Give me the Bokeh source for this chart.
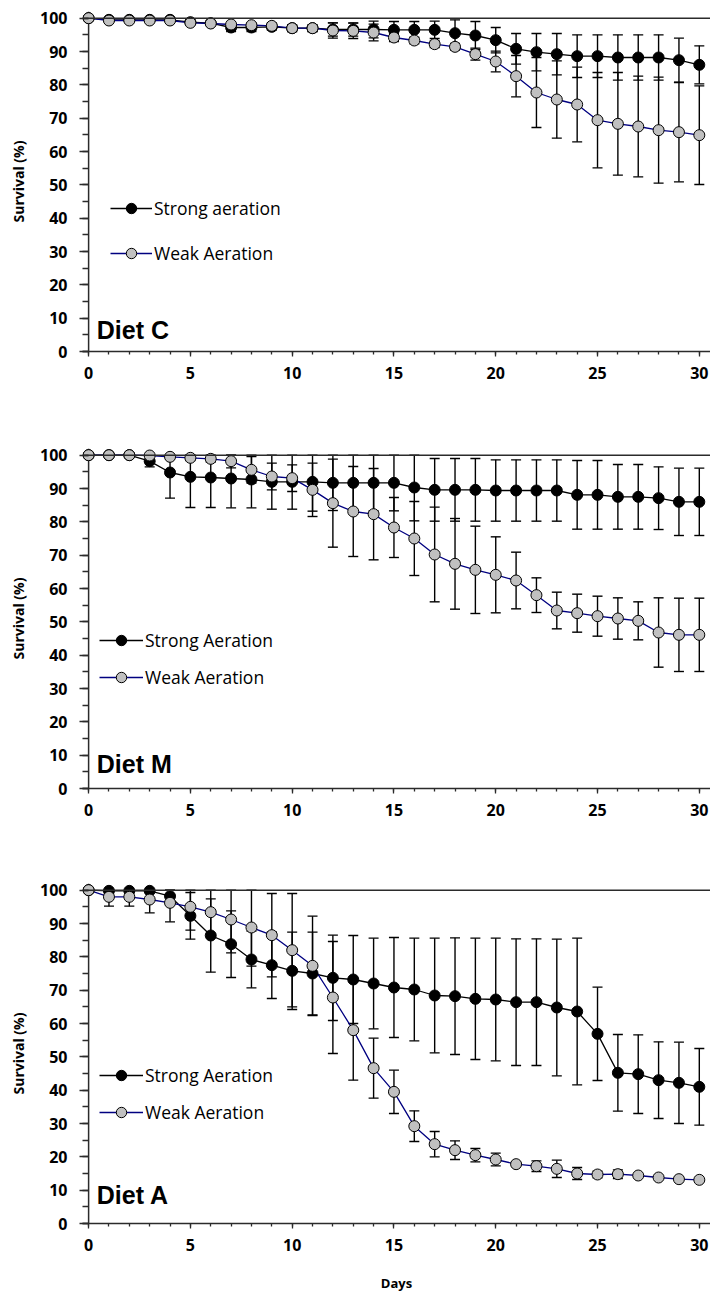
import numpy as np
from bokeh.plotting import figure
from bokeh.models import (ColumnDataSource, Whisker, TeeHead, Legend, LegendItem,
                          SingleIntervalTicker, Span, Label, Range1d)
from bokeh.layouts import column
from bokeh.embed import file_html
from bokeh.resources import INLINE

days = list(range(31))

# Diet C
c_strong = [100, 99.5, 99.5, 99.5, 99.5, 98.8, 98.5, 97.2, 97.2, 97.4, 97.0, 97.0, 96.6, 96.6, 96.6,
            96.5, 96.5, 96.5, 95.5, 94.8, 93.4, 90.8, 89.8, 89.2, 88.6, 88.6, 88.2, 88.2, 88.2, 87.4, 86.0]
c_strong_err = [0, 0, 0, 0, 0, 0.5, 0.5, 1.2, 1.2, 1, 1, 1, 2, 2, 2.5, 2.5, 2.5, 2.6, 4, 4.2, 3.8,
                4.6, 5.6, 6.2, 6.4, 6.4, 6.8, 6.8, 6.8, 6.6, 5.7]
c_weak = [100, 99.3, 99.3, 99.3, 99.3, 98.6, 98.4, 98.1, 97.9, 97.7, 97.0, 97.0, 96.3, 96.2, 95.7,
          94.2, 93.3, 92.2, 91.4, 89.2, 87.0, 82.6, 77.7, 75.6, 74.1, 69.4, 68.3, 67.5, 66.4, 65.8, 64.9]
c_weak_err = [0, 0, 0, 0, 0, 0.4, 0.5, 0.5, 0.6, 0.8, 1, 1, 2.3, 2.3, 2.5, 1.2, 1, 1, 1, 1.8, 3.1,
              6.2, 10.5, 11.6, 11.2, 14.3, 15.4, 15.1, 15.9, 14.9, 14.8]

# Diet M
m_strong = [100, 100, 100, 98.2, 94.8, 93.5, 93.3, 93.0, 92.7, 92.0, 92.0, 92.0, 91.7, 91.7, 91.7,
            91.7, 90.3, 89.6, 89.6, 89.6, 89.4, 89.4, 89.4, 89.4, 88.1, 88.1, 87.5, 87.5, 87.1, 86.0, 86.0]
m_strong_err = [0, 0, 0, 1.7, 7.7, 9.2, 9, 8.8, 8.5, 8.2, 8.2, 8.8, 8.3, 8.3, 8.4, 8.4, 10, 9.4, 9.4,
                9.4, 9.2, 9.2, 9.2, 9.2, 10.3, 10.3, 9.7, 9.7, 9.4, 10.1, 10.1]
m_weak = [100, 100, 100, 99.9, 99.5, 99.2, 98.9, 98.2, 95.6, 93.6, 93.1, 89.6, 85.6, 83.1, 82.3,
          78.3, 75.0, 70.2, 67.4, 65.6, 64.1, 62.4, 58.0, 53.4, 52.6, 51.7, 51.0, 50.3, 46.8, 46.1, 46.1]
m_weak_err = [0, 0, 0, 0, 0.5, 0.8, 1, 2, 4, 4, 4, 8, 13.2, 13.5, 13.7, 9, 11.1, 14.2, 13.6, 13.1,
              11.4, 8.5, 5.2, 5.5, 5.7, 6, 6.2, 5.7, 10.4, 11, 11]

# Diet A
a_strong = [100, 99.8, 99.8, 99.8, 98.2, 92.3, 86.4, 83.8, 79.2, 77.5, 75.8, 75.0, 73.7, 73.2, 72.0,
            70.8, 70.2, 68.4, 68.2, 67.4, 67.2, 66.4, 66.4, 64.8, 63.6, 56.9, 45.2, 44.8, 43.0, 42.2, 41.0]
a_strong_err = [0, 0, 0, 0, 2, 7, 11, 10, 8.5, 10, 11.6, 12.4, 12.8, 13.2, 13.6, 15, 15.4, 17.2, 17.5,
                18.2, 18.4, 19, 19, 20.5, 22, 14, 11.5, 11.8, 11.5, 12.2, 11.5]
a_weak = [100, 98, 98, 97.2, 96.2, 95, 93.4, 91.2, 88.8, 86.5, 82, 77.3, 67.8, 58, 46.6, 39.5, 29.2,
          23.8, 22, 20.5, 19.2, 17.8, 17.2, 16.4, 15, 14.7, 14.8, 14.4, 13.8, 13.3, 13.1]
a_weak_err = [0, 2.8, 2.8, 4, 5.7, 7, 6.6, 10, 11.6, 12.5, 17, 14.9, 16.8, 15, 9, 6.5, 4.6, 3.8, 2.8,
              2, 1.9, 0.5, 1.6, 2.6, 1.8, 1, 1.3, 0.5, 0.4, 0.3, 0.3]

diet_labels = ["Diet C", "Diet M", "Diet A"]
strong_labels = ["Strong aeration", "Strong Aeration", "Strong Aeration"]
weak_label = "Weak Aeration"
y_title = "Survival (%)"
x_title = "Days"

TICK_FONT = "Open Sans"
AX_COLOR = "#2b2b2b"


def make_panel(strong, strong_err, weak, weak_err, diet, diet_y, strong_label,
               leg_loc, glyph_w, spacing, top, bottom, height, xlabel):
    p = figure(width=710, height=height, output_backend="svg", toolbar_location=None,
               x_range=Range1d(-0.3, 30.55), y_range=Range1d(0, 102),
               min_border_left=82, min_border_right=0, min_border_top=top,
               min_border_bottom=bottom)
    p.outline_line_color = None
    p.grid.visible = False
    p.background_fill_color = "white"

    x = np.array(days, dtype=float)
    s = np.array(strong)
    se = np.array(strong_err)
    w = np.array(weak)
    we = np.array(weak_err)

    src_s = ColumnDataSource(dict(x=x, y=s, up=np.minimum(s + se, 100), lo=s - se))
    src_w = ColumnDataSource(dict(x=x, y=w, up=np.minimum(w + we, 100), lo=w - we))

    for src in (src_s, src_w):
        wh = Whisker(base="x", upper="up", lower="lo", source=src, level="underlay",
                     line_color="black", line_width=1.4,
                     upper_head=TeeHead(size=10, line_color="black", line_width=1.4),
                     lower_head=TeeHead(size=10, line_color="black", line_width=1.4))
        p.add_layout(wh)

    ls = p.line("x", "y", source=src_s, line_color="black", line_width=1.3)
    lw = p.line("x", "y", source=src_w, line_color="#000080", line_width=1.3)
    ms = p.scatter("x", "y", source=src_s, size=11, fill_color="black",
                   line_color="black", line_width=1)
    mw = p.scatter("x", "y", source=src_w, size=11, fill_color="#c0c0c0",
                   line_color="black", line_width=1)

    # plot-area top line and y-axis line at x = 0
    p.add_layout(Span(location=100, dimension="width", line_color=AX_COLOR, line_width=1.5))
    p.add_layout(Span(location=0, dimension="height", line_color=AX_COLOR, line_width=1.5,
                      level="underlay"))

    # x axis
    xa = p.xaxis[0]
    xa.ticker = SingleIntervalTicker(interval=5, num_minor_ticks=5)
    xa.bounds = (-0.3, 30.55)
    xa.axis_line_color = AX_COLOR
    xa.axis_line_width = 1.5
    xa.major_tick_line_color = AX_COLOR
    xa.minor_tick_line_color = AX_COLOR
    xa.major_tick_line_width = 1.3
    xa.minor_tick_line_width = 1.3
    xa.major_tick_out = 5
    xa.major_tick_in = 0
    xa.minor_tick_out = 3
    xa.minor_tick_in = 0
    xa.major_label_standoff = 10
    xa.major_label_text_font = TICK_FONT
    xa.major_label_text_font_style = "bold"
    xa.major_label_text_font_size = "16px"
    xa.major_label_text_color = "black"
    if xlabel:
        xa.axis_label = xlabel
        xa.axis_label_text_font = TICK_FONT
        xa.axis_label_text_font_style = "bold"
        xa.axis_label_text_font_size = "13px"
        xa.axis_label_text_color = "black"
        xa.axis_label_standoff = 20

    # y axis (sits at the frame's left edge; ticks reach the line at x = 0)
    ya = p.yaxis[0]
    ya.ticker = SingleIntervalTicker(interval=10, num_minor_ticks=2)
    ya.bounds = (0, 100)
    ya.axis_line_color = None
    ya.major_tick_line_color = AX_COLOR
    ya.minor_tick_line_color = AX_COLOR
    ya.major_tick_line_width = 1.3
    ya.minor_tick_line_width = 1.3
    ya.major_tick_out = 3
    ya.major_tick_in = 6
    ya.minor_tick_out = 0
    ya.minor_tick_in = 6
    ya.major_label_standoff = 12
    ya.major_label_text_font = TICK_FONT
    ya.major_label_text_font_style = "bold"
    ya.major_label_text_font_size = "16px"
    ya.major_label_text_color = "black"
    ya.axis_label = y_title
    ya.axis_label_text_font = TICK_FONT
    ya.axis_label_text_font_style = "bold"
    ya.axis_label_text_font_size = "14px"
    ya.axis_label_text_color = "black"
    ya.axis_label_standoff = 9

    p.add_layout(Label(x=0.4, y=diet_y, text=diet, text_align="left",
                       text_baseline="alphabetic", text_font="Liberation Sans",
                       text_font_style="bold", text_font_size="25px", text_color="black"))

    legend = Legend(items=[LegendItem(label=strong_label, renderers=[ls, ms]),
                           LegendItem(label=weak_label, renderers=[lw, mw])],
                    location=leg_loc, orientation="vertical",
                    glyph_width=glyph_w, glyph_height=26, label_height=26,
                    spacing=spacing, padding=0, margin=0, label_standoff=2,
                    border_line_color=None, background_fill_alpha=0,
                    label_text_font="Open Sans", label_text_font_size="17.5px",
                    label_text_color="black")
    p.add_layout(legend)
    return p


p1 = make_panel(c_strong, c_strong_err, c_weak, c_weak_err, diet_labels[0], 6.6,
                strong_labels[0], (28, 85), 42, 19, 11, 87, 438, None)
p2 = make_panel(m_strong, m_strong_err, m_weak, m_weak_err, diet_labels[1], 7.5,
                strong_labels[1], (17, 98), 44, 11, 10, 85, 435, None)
p3 = make_panel(a_strong, a_strong_err, a_weak, a_weak_err, diet_labels[2], 8.5,
                strong_labels[2], (17, 98), 44, 11, 10, 72, 422, x_title)

layout = column(p1, p2, p3, spacing=0)
open("out.html", "w").write(file_html(layout, INLINE))
